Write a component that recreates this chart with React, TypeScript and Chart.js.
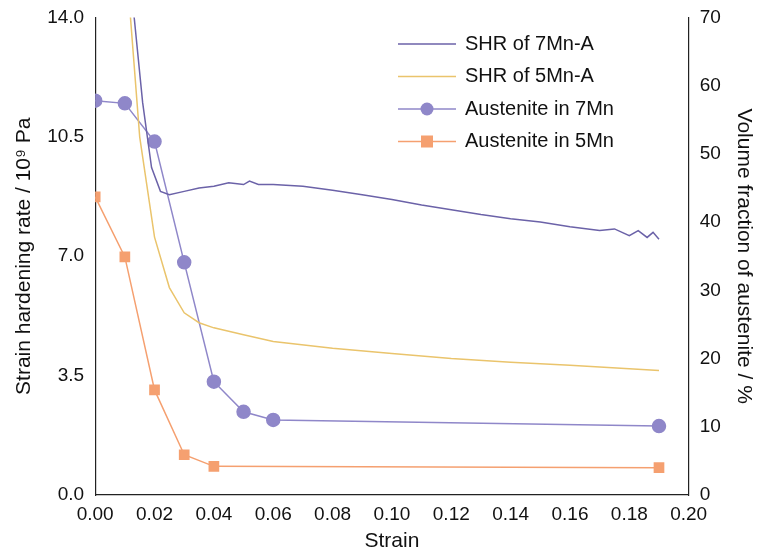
import React, { useEffect, useRef } from "react";
import { Chart, registerables } from "chart.js";
Chart.register(...registerables);

const shr7Strain = [0.012, 0.016, 0.019, 0.022, 0.025, 0.03, 0.035, 0.04, 0.045, 0.05, 0.052, 0.055, 0.06, 0.07, 0.08, 0.09, 0.1, 0.11, 0.12, 0.13, 0.14, 0.15, 0.16, 0.17, 0.175, 0.18, 0.183, 0.186, 0.188, 0.19];
const shr7 = [15, 11.5, 9.6, 8.9, 8.8, 8.9, 9.0, 9.05, 9.15, 9.1, 9.2, 9.1, 9.1, 9.05, 8.93, 8.8, 8.66, 8.5, 8.36, 8.22, 8.1, 8.0, 7.86, 7.75, 7.8, 7.6, 7.75, 7.55, 7.7, 7.5];
const shr5Strain = [0.011, 0.015, 0.02, 0.025, 0.03, 0.035, 0.04, 0.05, 0.06, 0.08, 0.1, 0.12, 0.14, 0.16, 0.18, 0.19];
const shr5 = [15, 10.5, 7.56, 6.08, 5.34, 5.05, 4.9, 4.7, 4.5, 4.3, 4.15, 4.0, 3.89, 3.8, 3.7, 3.65];
const aus7Strain = [0, 0.01, 0.02, 0.03, 0.04, 0.05, 0.06, 0.19];
const aus7 = [57.8, 57.4, 51.8, 34.1, 16.6, 12.2, 11.0, 10.1];
const aus5Strain = [0, 0.01, 0.02, 0.03, 0.04, 0.19];
const aus5 = [43.7, 34.9, 15.4, 5.9, 4.2, 4.0];

const C7L = "#6b62a8", C7M = "#8f87c9", C5L = "#eac46c", C5M = "#f5a070";
const FONT = "'Liberation Sans', Arial, sans-serif";
const pts = (xs: number[], ys: number[]) => xs.map((x, i) => ({ x, y: ys[i] }));

export default function App() {
  const ref = useRef<HTMLCanvasElement>(null);
  useEffect(() => {
    document.body.style.margin = "0";
    const legend = {
      id: "lg",
      afterDraw(c: any) {
        const ctx = c.ctx;
        const rows = [
          ["SHR of 7Mn-A", C7L, null],
          ["SHR of 5Mn-A", C5L, null],
          ["Austenite in 7Mn", C7M, "circle"],
          ["Austenite in 5Mn", C5M, "rect"],
        ];
        ctx.save();
        ctx.font = `20px ${FONT}`;
        ctx.textBaseline = "middle";
        rows.forEach((r: any, i) => {
          const y = 44 + i * 32.5, x0 = 398, x1 = 456;
          ctx.strokeStyle = r[1]; ctx.lineWidth = 1.5;
          ctx.beginPath(); ctx.moveTo(x0, y); ctx.lineTo(x1, y); ctx.stroke();
          ctx.fillStyle = r[1];
          if (r[2] === "circle") { ctx.beginPath(); ctx.arc((x0 + x1) / 2, y, 6.5, 0, Math.PI * 2); ctx.fill(); }
          if (r[2] === "rect") ctx.fillRect((x0 + x1) / 2 - 6, y - 6, 12, 12);
          ctx.fillStyle = "#111"; ctx.fillText(r[0], 465, y);
        });
        ctx.restore();
      },
    };
    const chart = new Chart(ref.current!, {
      type: "line",
      data: {
        datasets: [
          { data: pts(shr7Strain, shr7), borderColor: C7L, borderWidth: 1.5, pointRadius: 0, yAxisID: "y" },
          { data: pts(shr5Strain, shr5), borderColor: C5L, borderWidth: 1.5, pointRadius: 0, yAxisID: "y" },
          { data: pts(aus7Strain, aus7), borderColor: C7M, backgroundColor: C7M, borderWidth: 1.5, pointRadius: 6.5, pointStyle: "circle", yAxisID: "y1" },
          { data: pts(aus5Strain, aus5), borderColor: C5M, backgroundColor: C5M, borderWidth: 1.5, pointRadius: 6.5, pointStyle: "rect", yAxisID: "y1" },
        ],
      },
      options: {
        animation: false, responsive: false,
        layout: { padding: { top: 12, right: 8, left: 8, bottom: 0 } },
        plugins: { legend: { display: false }, tooltip: { enabled: false } },
        scales: {
          x: {
            type: "linear", min: 0, max: 0.2,
            ticks: { stepSize: 0.02, color: "#111", font: { size: 19, family: FONT }, callback: (v: any) => Number(v).toFixed(2), maxRotation: 0 },
            grid: { display: false, drawTicks: true, tickLength: 5 },
            border: { color: "#222", width: 1.2 },
            title: { display: true, text: "Strain", color: "#111", font: { size: 21, family: FONT }, padding: 0 },
          },
          y: {
            min: 0, max: 14,
            ticks: { stepSize: 3.5, color: "#111", font: { size: 19, family: FONT }, callback: (v: any) => Number(v).toFixed(1), padding: 6 },
            grid: { display: false, tickLength: 5 },
            border: { color: "#222", width: 1.2 },
            title: { display: true, text: "Strain hardening rate / 10⁹ Pa", color: "#111", font: { size: 21, family: FONT }, padding: 4 },
          },
          y1: {
            position: "right", min: 0, max: 70,
            ticks: { stepSize: 10, color: "#111", font: { size: 19, family: FONT }, padding: 6 },
            grid: { display: false, tickLength: 5 },
            border: { color: "#222", width: 1.2 },
            title: { display: true, text: "Volume fraction of austenite / %", color: "#111", font: { size: 21, family: FONT }, padding: 4 },
          },
        },
      },
      plugins: [legend],
    } as any);
    return () => chart.destroy();
  }, []);
  return <canvas ref={ref} width={768} height={554} style={{ display: "block" }} />;
}
